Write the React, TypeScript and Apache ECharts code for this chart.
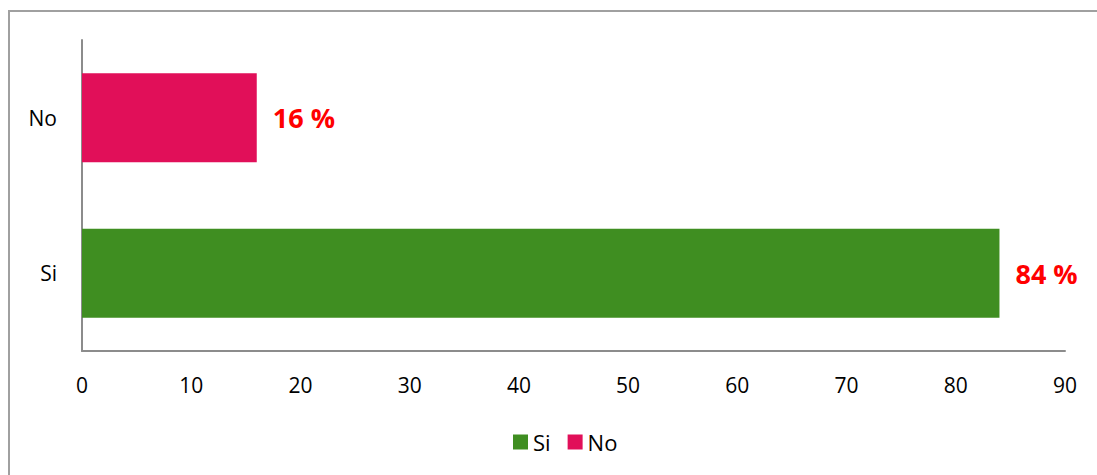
import React, { useEffect, useRef } from "react";
import * as echarts from "echarts";

const categories = ["Si", "No"];
const seriesNames = ["Si", "No"];
const siValues = [84, "-"];
const noValues = ["-", 16];
const seriesColors = ["#3f8e21", "#e10f59"];
const xTicks = { min: 0, max: 90, interval: 10 };

export default function App() {
  const ref = useRef<HTMLDivElement>(null);
  useEffect(() => {
    if (!ref.current) return;
    const chart = echarts.init(ref.current, null, { renderer: "svg" });
    const font = "'Open Sans', sans-serif";
    const label = {
      show: true,
      position: "right",
      distance: 16,
      color: "#ff0000",
      fontFamily: font,
      fontWeight: "bold",
      fontSize: 27,
      formatter: (p: any) => `${p.value} %`,
    };
    chart.setOption({
      animation: false,
      backgroundColor: "#ffffff",
      graphic: [
        {
          type: "rect",
          shape: { x: 9, y: 11, width: 1300, height: 700 },
          style: { fill: "none", stroke: "#a0a0a0", lineWidth: 2 },
          silent: true,
        },
      ],
      grid: { left: 82, right: 32, top: 40, bottom: 124, containLabel: false },
      legend: {
        top: 426,
        left: 508,
        icon: "rect",
        itemWidth: 15,
        itemHeight: 15,
        itemGap: 17,
        data: seriesNames,
        textStyle: { fontFamily: font, fontSize: 22, color: "#000" },
      },
      xAxis: {
        type: "value",
        min: xTicks.min,
        max: xTicks.max,
        interval: xTicks.interval,
        axisLine: { show: true, lineStyle: { color: "#8c8c8c", width: 2 } },
        axisTick: { show: false },
        splitLine: { show: false },
        axisLabel: { margin: 23, color: "#000", fontFamily: font, fontSize: 21 },
      },
      yAxis: {
        type: "category",
        data: categories,
        axisLine: { show: true, lineStyle: { color: "#8c8c8c", width: 2 } },
        axisTick: { show: false },
        axisLabel: { margin: 25, color: "#000", fontFamily: font, fontSize: 21 },
      },
      series: [
        {
          name: seriesNames[0],
          type: "bar",
          stack: "total",
          barWidth: 89,
          data: siValues,
          itemStyle: { color: seriesColors[0] },
          label,
        },
        {
          name: seriesNames[1],
          type: "bar",
          stack: "total",
          barWidth: 89,
          data: noValues,
          itemStyle: { color: seriesColors[1] },
          label,
        },
      ],
    });
    return () => chart.dispose();
  }, []);
  return (
    <div
      ref={ref}
      style={{ position: "fixed", left: 0, top: 0, width: 1097, height: 475 }}
    />
  );
}
